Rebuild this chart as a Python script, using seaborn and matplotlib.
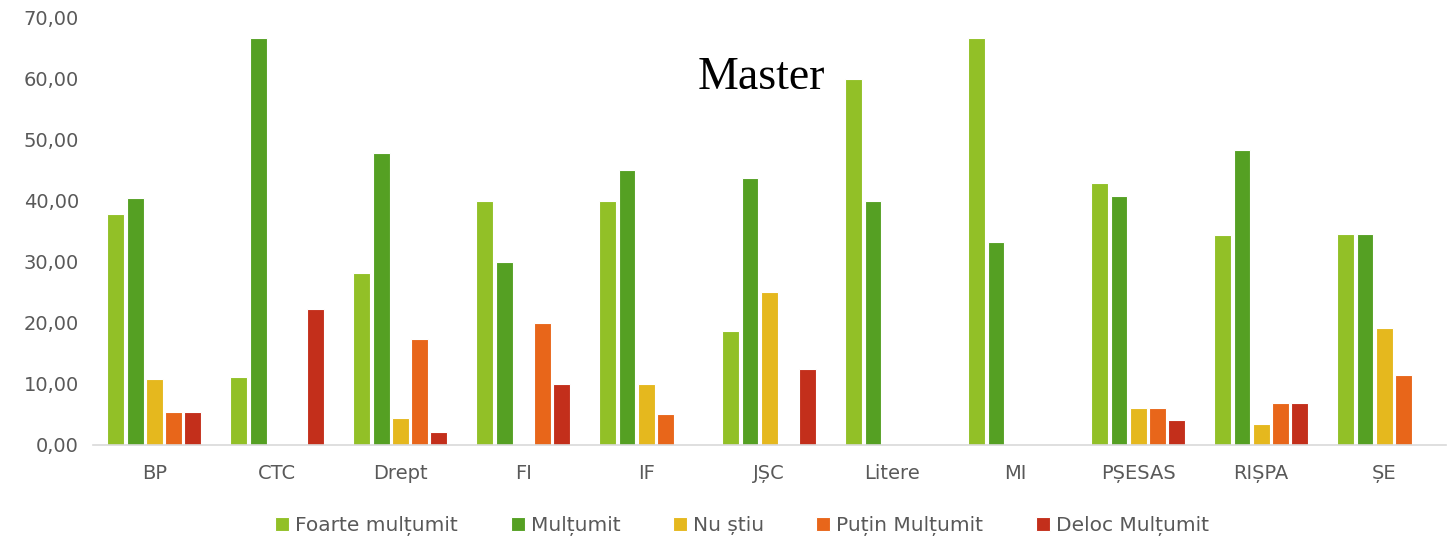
import pandas as pd
import matplotlib.pyplot as plt
import seaborn as sns

# categories and series
faculties = ['BP', 'CTC', 'Drept', 'FI', 'IF', 'JȘC', 'Litere', 'MI', 'PȘESAS', 'RIȘPA', 'ȘE']
series = ['Foarte mulțumit', 'Mulțumit', 'Nu știu', 'Puțin Mulțumit', 'Deloc Mulțumit']

foarte_multumit = [37.84, 11.11, 28.26, 40.00, 40.00, 18.75, 60.00, 66.67, 42.86, 34.48, 34.62]
multumit = [40.54, 66.67, 47.83, 30.00, 45.00, 43.75, 40.00, 33.33, 40.82, 48.28, 34.62]
nu_stiu = [10.81, 0.00, 4.35, 0.00, 10.00, 25.00, 0.00, 0.00, 6.12, 3.45, 19.23]
putin_multumit = [5.41, 0.00, 17.39, 20.00, 5.00, 0.00, 0.00, 0.00, 6.12, 6.90, 11.54]
deloc_multumit = [5.41, 22.22, 2.17, 10.00, 0.00, 12.50, 0.00, 0.00, 4.08, 6.90, 0.00]

colors = ['#92C027', '#55A023', '#E5B81E', '#E8661A', '#C32F1B']
y_ticks = [0, 10, 20, 30, 40, 50, 60, 70]

rows = []
for name, vals in zip(series, [foarte_multumit, multumit, nu_stiu, putin_multumit, deloc_multumit]):
    for fac, v in zip(faculties, vals):
        rows.append({'Facultate': fac, 'Grad': name, 'Procent': v})
df = pd.DataFrame(rows)

sns.set_style('white')
plt.rcParams['font.family'] = ['DejaVu Sans']

fig = plt.figure(figsize=(14.5, 5.4), dpi=100)
ax = fig.add_axes([0.064, 0.176, 0.933, 0.791])

sns.barplot(data=df, x='Facultate', y='Procent', hue='Grad', hue_order=series,
            order=faculties, palette=colors, saturation=1, width=0.78, gap=0.12,
            edgecolor='white', linewidth=0.8, ax=ax)

ax.set_ylim(0, 70)
ax.set_yticks(y_ticks)
ax.set_yticklabels([f'{t:.2f}'.replace('.', ',') for t in y_ticks])
ax.set_xlim(-0.5, len(faculties) - 0.5)
ax.set_xlabel('')
ax.set_ylabel('')
ax.tick_params(axis='both', length=0, colors='#595959', labelsize=14)
ax.tick_params(axis='x', pad=14)
ax.tick_params(axis='y', pad=10)

for side in ['top', 'right', 'left']:
    ax.spines[side].set_visible(False)
ax.spines['bottom'].set_color('#D9D9D9')
ax.spines['bottom'].set_linewidth(1.2)

ax.text(0.494, 0.86, 'Master', transform=ax.transAxes, ha='center', va='center',
        fontsize=33, family='Liberation Serif', color='black')

handles, labels = ax.get_legend_handles_labels()
ax.legend(handles, labels, loc='center', bbox_to_anchor=(0.48, -0.19), ncol=5,
          frameon=False, fontsize=14.5, handlelength=0.7, handleheight=0.7,
          handletextpad=0.3, columnspacing=2.6, labelcolor='#595959')

fig.savefig('out.png', dpi=100)
